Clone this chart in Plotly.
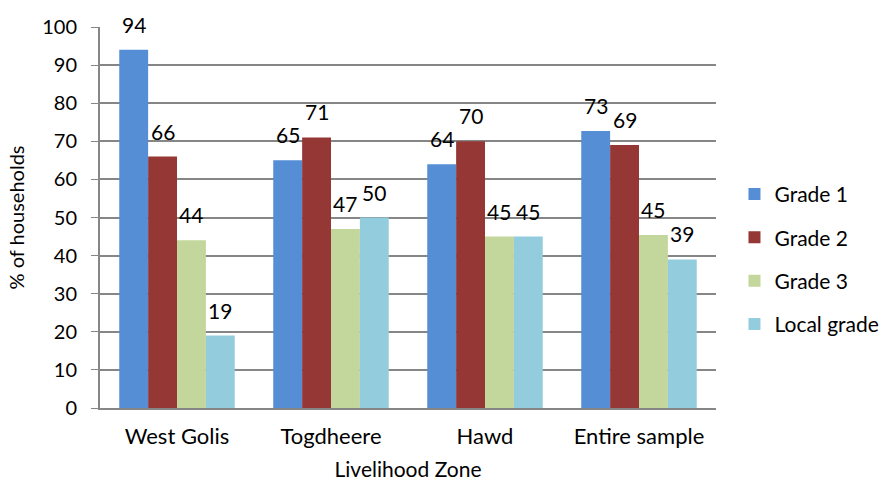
import plotly.graph_objects as go

zones = ["West Golis", "Togdheere", "Hawd", "Entire sample"]
series_names = ["Grade 1", "Grade 2", "Grade 3", "Local grade"]
grade1 = [94, 65, 64, 72.7]
grade2 = [66, 71, 70, 69]
grade3 = [44, 47, 45, 45.4]
local_grade = [19, 50, 45, 39]
colors = ["#558ED5", "#953735", "#C3D69B", "#93CDDD"]

FONT = "Lato"
W, H = 890, 482
ML, MR, MT, MB = 100, 174, 27, 74
BARGAP = 0.25

fig = go.Figure()
all_series = [grade1, grade2, grade3, local_grade]
for i, (name, vals, col) in enumerate(zip(series_names, all_series, colors)):
    fig.add_trace(go.Bar(
        x=zones, y=vals, name=name, marker_color=col, marker_line_width=0,
        legendgroup=name,
    ))

# value labels above each bar
cat_px = (W - ML - MR) / len(zones)
bar_px = cat_px * (1 - BARGAP) / len(series_names)
for i, vals in enumerate(all_series):
    off = (i - (len(series_names) - 1) / 2) * bar_px
    for z, v in zip(zones, vals):
        fig.add_annotation(x=z, y=v, text=f"{v:.0f}", showarrow=False,
                           xanchor="center", yanchor="bottom", xshift=off, yshift=11,
                           font=dict(family=FONT, size=21, color="#000"))

fig.update_layout(
    width=W, height=H, barmode="group", bargap=BARGAP, bargroupgap=0,
    margin=dict(l=ML, r=MR, t=MT, b=MB, autoexpand=False),
    plot_bgcolor="white", paper_bgcolor="white",
    font=dict(family=FONT, size=20, color="#000"),
    legend=dict(x=1.03, y=0.39, yanchor="middle", xanchor="left",
                font=dict(family=FONT, size=21), tracegroupgap=13,
                itemwidth=30, traceorder="grouped"),
    xaxis=dict(title=dict(text="Livelihood Zone", font=dict(size=21), standoff=14),
               showline=True, linecolor="#868686", linewidth=2, ticks="",
               tickfont=dict(size=22), ticklabelstandoff=8),
    yaxis=dict(title=dict(text="% of households", font=dict(size=20), standoff=12),
               range=[0, 100], dtick=10, showgrid=True, gridcolor="#868686", gridwidth=1.5,
               showline=True, linecolor="#868686", linewidth=2, ticks="outside",
               ticklen=7, tickcolor="#868686", tickfont=dict(size=20), zeroline=False,
               ticklabelstandoff=10),
)
fig.write_html("out.html")
